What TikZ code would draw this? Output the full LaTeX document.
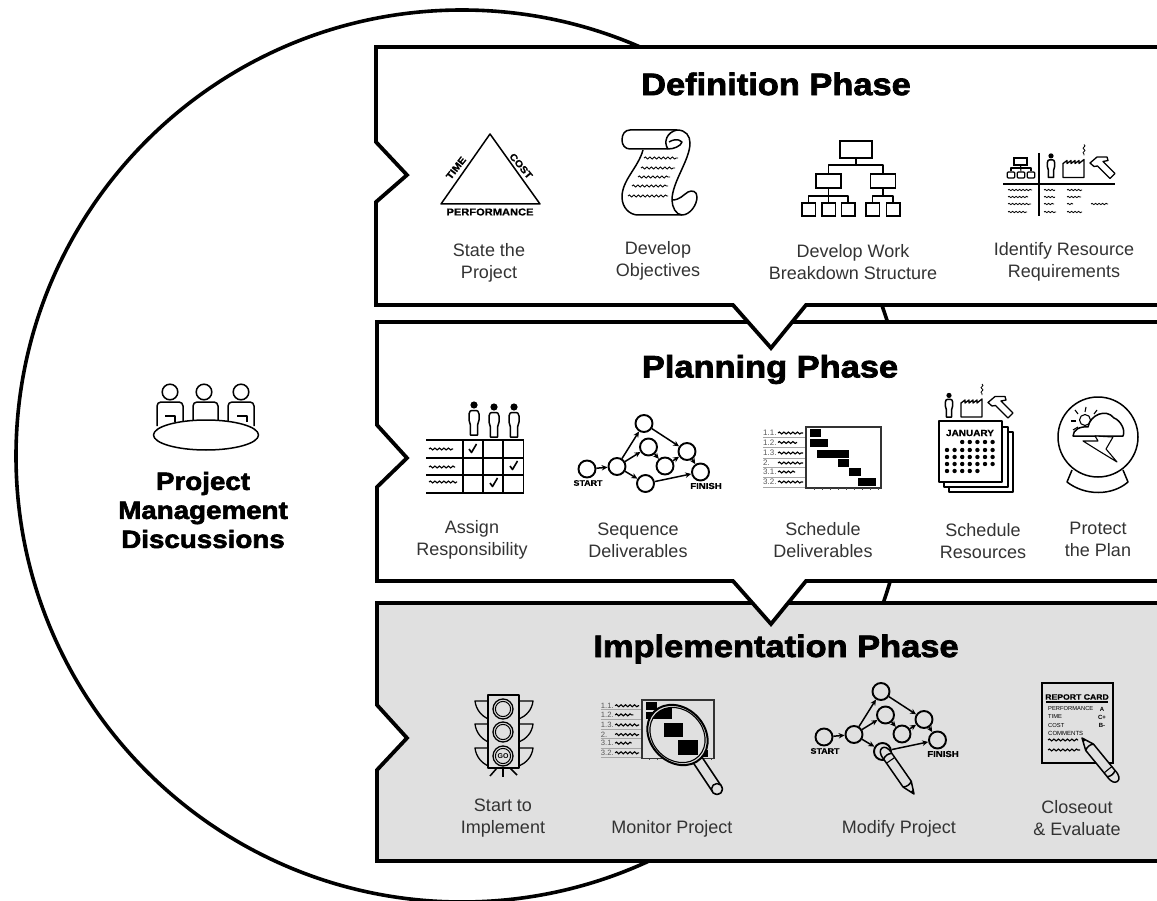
\documentclass[tikz,border=0pt]{standalone}
\usepackage{fontspec}
\setmainfont{Liberation Sans}
\newfontfamily\heavyf[BoldFeatures={FakeBold=2.4,FakeStretch=1.11}]{Liberation Sans}
\newfontfamily\tinyf[BoldFeatures={FakeBold=.7,FakeStretch=1.11}]{Liberation Sans}
\usetikzlibrary{arrows.meta,decorations.pathmorphing}
\definecolor{panel}{HTML}{E0E0E0}
\definecolor{labelgray}{HTML}{333333}
\tikzset{
  phasebox/.style={draw=black,line width=3.8pt,fill=white,line join=miter},
  icon/.style={draw=black,line width=1.5pt,line join=round},
  thinicon/.style={draw=black,line width=1.1pt,line join=round},
  squig/.style={draw=black,line width=1.1pt,decorate,decoration={snake,amplitude=1pt,segment length=4.5pt}},
  ttl/.style={font=\heavyf\bfseries\fontsize{31}{32}\selectfont,inner sep=0pt},
  lab/.style={font=\fontsize{18}{22}\selectfont,text=labelgray,align=center,inner sep=0pt},
  tiny/.style={font=\tinyf\bfseries\fontsize{8}{9}\selectfont,inner sep=0pt},
  wbsbox/.style={draw=black,line width=1.5pt,inner sep=0pt},
  netnode/.style={circle,draw=black,line width=1.9pt,inner sep=0pt,minimum size=17pt},
  netarrow/.style={draw=black,line width=1.5pt,-{Stealth[length=6pt,width=5.5pt]}},
  person/.pic={
    \fill[black] (0,0) circle[radius=3.6];
    \draw[icon] (-5,9) .. controls (-5,6) and (-3,5.5) .. (-2,5.5) -- (2,5.5) .. controls (3,5.5) and (5,6) .. (5,9)
      -- (5,15) -- (3.6,20) -- (3.6,30) -- (-3.6,30) -- (-3.6,20) -- (-5,15) -- cycle;
  },
  resources/.pic={
    \pic[scale=.72] at (0,-9.6) {person};
    \draw[icon,line width=1.3pt] (12,12) -- (12,-2) -- (16,-5) -- (16,-2) -- (20,-5) -- (20,-2) -- (24,-5) -- (24,-2) -- (28,-5) -- (28,-2) -- (33,-6) -- (33,12) -- cycle;
    \draw[squig,line width=.8pt] (33,-21) -- (33,-10);
    \draw[icon,line width=1.3pt] (39,-2.5) -- (46,-8.5) -- (56,-8.5) -- (57,-5) -- (52,-4) -- (64,8) -- (59,13) -- (46.5,.5) -- (43,1) -- cycle;
  },
  network/.pic={
    \node[netnode] (-s) at (0,0) {};
    \node[netnode] (-n) at (30,-2.5) {};
    \node[netnode] (-t) at (57,-45.5) {};
    \node[netnode] (-m) at (61.5,-22) {};
    \node[netnode] (-l) at (78,-3) {};
    \node[netnode] (-b) at (58.5,14.5) {};
    \node[netnode] (-r) at (100,-17.5) {};
    \node[netnode] (-f) at (113.5,3) {};
    \draw[netarrow] (-s) -- (-n);
    \draw[netarrow] (-n) -- (-t);
    \draw[netarrow] (-n) -- (-m);
    \draw[netarrow] (-n) -- (-b);
    \draw[netarrow] (-t) -- (-r);
    \draw[netarrow] (-m) -- (-l);
    \draw[netarrow] (-l) -- (-r);
    \draw[netarrow] (-r) -- (-f);
    \draw[netarrow] (-b) -- (-f);
    \node[tiny] (-st) at (1,14) {START};
    \node[tiny,font=\tinyf\bfseries\fontsize{8.6}{9}\selectfont] (-fi) at (119,17) {FINISH};
  },
  ganttframe/.pic={
    \foreach \yy in {10,20,31,40.5,50,60} \draw[gray!70,line width=1pt] (-43,\yy) -- (0,\yy);
    \foreach \yy/\txt/\se in {6/1.1./-3,15.5/1.2./-9,26/1.3./-3,36/2./-3,45/3.1./-11,55/3.2./-3}{
      \node[anchor=west,inner sep=0pt,font=\fontsize{8}{8}\selectfont,text=black!65] (-g\yy) at (-43,\yy) {\txt};
      \draw[squig] (-28,\yy) -- (\se,\yy);
    }
    \draw[draw=black!80,line width=1.3pt] (0,0) rectangle (75,61);
    \foreach \xx in {8,16,...,72} \draw[black!70,line width=.6pt] (\xx,61) -- (\xx,63);
  },
  pencil/.pic={
    \draw[icon,fill=panel] (0,0) -- (12,-5) -- (46,-5) .. controls (53,-5.5) and (56,-3) .. (56,0) .. controls (56,3) and (53,5.5) .. (46,5) -- (12,5) -- cycle;
    \fill[black] (0,0) -- (4,-1.7) -- (4,1.7) -- cycle;
    \draw[icon] (12,-5) .. controls (10,-2) and (10,2) .. (12,5);
    \draw[icon] (46,-5) .. controls (48,-2) and (48,2) .. (46,5);
    \draw[thinicon] (41,-5) -- (41,5);
  }
}
\newcommand{\labl}[3]{\node[lab] (#1) at (#2) {#3};}
\begin{document}
\begin{tikzpicture}[x=1pt,y=-1pt]
\useasboundingbox (0,0) rectangle (1157,901);
\clip (0,0) rectangle (1157,901);
\fill[white] (0,0) rectangle (1157,901);

% big circle
\draw[draw=black,line width=3.6pt] (462,456) circle[radius=446];

% phase boxes, lowest first
\path[phasebox,fill=panel] (1175,603) -- (377,603) -- (377,705) -- (407,738) -- (377,770) -- (377,861) -- (1175,861) -- cycle;
\path[phasebox] (1175,322) -- (377,322) -- (377,425) -- (407,458) -- (377,487) -- (377,581) -- (733,581) -- (771,624) -- (806,581) -- (1175,581) -- cycle;
\path[phasebox] (1175,47) -- (376,47) -- (376,142) -- (407,175) -- (376,202) -- (376,305) -- (733,305) -- (771,348) -- (806,305) -- (1175,305) -- cycle;

% titles
\node[ttl] (t1) at (776,84) {Definition Phase};
\node[ttl] (t2) at (770,369.5) {Planning Phase};
\node[ttl] (t3) at (776,649) {Implementation Phase};

% left: meeting
\draw[icon,rounded corners=4pt] (157,426) -- (157,402) -- (183,402) -- (183,424);
\draw[icon,rounded corners=4pt] (193,421) -- (193,402) -- (218,402) -- (218,421);
\draw[icon,rounded corners=4pt] (228,424) -- (228,402) -- (254,402) -- (254,426);
\draw[icon] (165,416) -- (175,416) -- (175,422);
\draw[icon] (237,416) -- (247,416) -- (247,422);
\draw[icon] (170,392) circle[radius=7.8];
\draw[icon] (204,392) circle[radius=7.8];
\draw[icon] (241,392) circle[radius=7.8];
\draw[icon,fill=white] (206,435) ellipse[x radius=52.5,y radius=15];
\node[font=\heavyf\bfseries\fontsize{25}{29}\selectfont,align=center,inner sep=0pt] (pm) at (203,510) {Project\\Management\\Discussions};

% ---------- Definition
\draw[icon] (490,134) -- (441,204) -- (540,204) -- cycle;
\node[tiny,font=\tinyf\bfseries\fontsize{10}{10}\selectfont] (perf) at (490,212) {PERFORMANCE};
\node[tiny,font=\tinyf\bfseries\fontsize{9.7}{10}\selectfont,rotate=52] (time) at (456,168) {TIME};
\node[tiny,font=\tinyf\bfseries\fontsize{9.7}{10}\selectfont,rotate=-50] (cost) at (521,166) {COST};
\labl{l11}{489,263}{State the\\Project}

% scroll
\draw[icon] (643,150) .. controls (638,168) and (622,180) .. (622,197) .. controls (622,208) and (630,215) .. (638,215) -- (682,215);
\draw[icon] (668,149) -- (630,149) .. controls (625,149) and (622,145) .. (622,140) .. controls (622,134) and (625,130) .. (630,130) -- (677,130) .. controls (686,130) and (690,136) .. (690,143) .. controls (690,160) and (672,182) .. (672,200);
\draw[icon] (668,149) .. controls (663,142) and (667,132) .. (677,130);
\draw[icon] (668,149) .. controls (674,149) and (681,146) .. (682,142) .. controls (678,138) and (672,140) .. (669,142);
\draw[icon] (672,200) .. controls (672,207) and (676,215) .. (682,215) .. controls (690,215) and (697,205) .. (697,197) .. controls (697,191) and (692,190) .. (688,192) .. controls (683,195) and (680,200) .. (672,200);
\foreach \xa/\xb/\yy in {644/678/158,641/675/168,638/670/177,632/668/186,628/668/196}
  \draw[squig,line width=.9pt] (\xa,\yy) -- (\xb,\yy);
\labl{l12}{658,261}{Develop\\Objectives}

% WBS
\node[wbsbox,minimum width=32pt,minimum height=17pt] (w0) at (856,149.5) {};
\node[wbsbox,minimum width=25pt,minimum height=14pt] (w1) at (828.5,181) {};
\node[wbsbox,minimum width=25pt,minimum height=14pt] (w2) at (883,181) {};
\foreach \n/\xx in {a/808.5,b/828.5,c/848,d/872.5,e/893}
  \node[wbsbox,minimum width=13.5pt,minimum height=13pt] (w\n) at (\xx,209.5) {};
\coordinate (j0) at (856,165);
\coordinate (j1) at (828.5,196);
\coordinate (j2) at (883,196);
\draw[icon] (w0) -- (j0);
\draw[icon] (w1.north) |- (j0) -| (w2.north);
\draw[icon] (w1.south) -- (wb.north);
\draw[icon] (wa.north) |- (j1) -| (wc.north);
\draw[icon] (w2.south) -- (j2);
\draw[icon] (wd.north) |- (j2) -| (we.north);
\labl{l13}{853,262}{Develop Work\\Breakdown Structure}

% identify resource
\node[draw=black,line width=1.2pt,minimum width=13pt,minimum height=7pt,inner sep=0pt] (i0) at (1020.5,161.5) {};
\foreach \n/\xx in {a/1011,b/1021,c/1031}
  \node[draw=black,line width=1.2pt,minimum width=7.5pt,minimum height=6pt,inner sep=0pt,rounded corners=1pt] (i\n) at (\xx,175) {};
\coordinate (ij) at (1020.5,168);
\draw[thinicon] (i0) -- (ib);
\draw[thinicon] (ia.north) |- (ij) -| (ic.north);
\draw[draw=black,line width=1.5pt] (1039,153) -- (1039,216);
\draw[draw=black,line width=1.5pt] (1003,184) -- (1115,184);
\pic at (1051,165.5) {resources};
\foreach \xa/\xb/\yy in {1008/1032/190,1008/1028/197,1008/1031/204,1008/1027/212,1044/1055/190,1044/1055/197,1044/1054/204,1044/1056/212,1067/1082/190,1067/1081/197,1067/1073/204,1067/1082/212,1091/1108/204}
  \draw[squig,line width=.8pt,decoration={snake,amplitude=.7pt,segment length=3.5pt}] (\xa,\yy) -- (\xb,\yy);
\labl{l14}{1064,262}{Identify Resource\\Requirements}

% ---------- Planning
\pic at (474,405) {person};
\pic at (494,407) {person};
\pic at (514,407) {person};
\draw[draw=black,line width=1.8pt] (426,440) -- (524,440) (426,458) -- (524,458) (426,475) -- (524,475) (426,493) -- (524,493);
\draw[draw=black,line width=1.8pt] (463,440) -- (463,493) (483,440) -- (483,493) (503,440) -- (503,493) (523.5,440) -- (523.5,493);
\foreach \a/\b in {473/449,514/466,494/483}
  \draw[draw=black,line width=1.6pt,line join=round] (\a-4,\b) -- (\a-1.5,\b+3.5) -- (\a+3.5,\b-5);
\draw[squig] (429,449) -- (453,449);
\draw[squig] (429,467) -- (455,467);
\draw[squig] (429,482) -- (457,482);
\labl{l21}{472,540}{Assign\\Responsibility}

\pic (net1) at (587,469) {network};
\labl{l22}{638,540}{Sequence\\Deliverables}

\pic at (806,427) {ganttframe};
\foreach \xa/\ya/\xb/\yb in {810/429/821/437,810/439/828/447,817/450/849/458,838/459/849/467,849/468/861/476,858/478/876/486}
  \fill[black] (\xa,\ya) rectangle (\xb,\yb);
\labl{l23}{823,540}{Schedule\\Deliverables}

% calendar
\pic at (949,405) {resources};
\draw[icon,fill=white] (949,432) rectangle (1013,492);
\draw[icon,fill=white] (944,427) rectangle (1008,487);
\draw[icon,fill=white] (939,421) rectangle (1002,482);
\node[tiny,font=\tinyf\bfseries\fontsize{9}{10}\selectfont] (jan) at (970,433) {JANUARY};
\foreach \rr/\yy in {1/442,2/450,3/457,4/464,5/471}
  \foreach \cc in {0,...,6}{
    \pgfmathparse{(\rr==1 && \cc<2) || (\rr==5 && \cc>4) ? 0 : 1}
    \ifnum\pgfmathresult>0
      \fill[black] (947+7.6*\cc,\yy) circle[radius=2.2];
    \fi
  }
\labl{l24}{983,541}{Schedule\\Resources}

% crystal ball
\draw[icon] (1072,470) -- (1067,482) .. controls (1085,496) and (1112,496) .. (1128,482) -- (1123,470);
\draw[icon] (1098,437) circle[radius=40];
\draw[thinicon] (1085,420) circle[radius=5.5];
\foreach \a/\b/\c/\d in {1085/412/1086/407,1078/414/1075/410,1094/414/1097/410,1076/421/1071/421,1078/427/1073/430}
  \draw[thinicon] (\a,\b) -- (\c,\d);
\draw[icon,fill=white] (1073,436) .. controls (1073,430) and (1080,426) .. (1088,427) .. controls (1090,415) and (1106,408) .. (1114,418) .. controls (1120,420) and (1126,430) .. (1123,436) -- cycle;
\draw[thinicon,fill=white] (1083,441) -- (1098,441) -- (1095,436) -- (1113,437) -- (1106,449) -- (1117,462) -- (1099,451) -- cycle;
\labl{l25}{1098,539}{Protect\\the Plan}

% ---------- Implementation
% traffic light
\foreach \yy in {701,724,748}{
  \draw[thinicon,line width=1.3pt] (488,\yy) -- (475,\yy) .. controls (476,\yy+9) and (482,\yy+15) .. (488,\yy+18);
  \draw[thinicon,line width=1.3pt] (519,\yy) -- (533,\yy) .. controls (532,\yy+9) and (526,\yy+15) .. (519,\yy+18);
}
\draw[thinicon,line width=1.3pt] (488,695) rectangle (519,768);
\foreach \yy in {709,732,756}{
  \draw[thinicon,line width=1.3pt] (503,\yy) circle[radius=10];
  \draw[thinicon,line width=1pt] (503,\yy) circle[radius=7.6];
}
\node[inner sep=0pt,font=\bfseries\fontsize{7}{8}\selectfont] (go) at (503,756.5) {GO};
\draw[icon] (503,768) -- (503,777);
\draw[icon] (497,768) -- (490,776);
\draw[icon] (510,768) -- (517,775);
\labl{l31}{503,818}{Start to\\Implement}

% monitor
\begin{scope}[shift={(642,700)},scale=.96,transform shape]
\pic at (0,0) {ganttframe};
\end{scope}
\foreach \xa/\ya/\xb/\yb in {646/702/657/710,646/712/657/719,702/750/708/757}
  \fill[black] (\xa,\ya) rectangle (\xb,\yb);
\draw[draw=black,line width=12pt,line cap=round] (693,753) -- (717,789);
\draw[draw=panel,line width=8.5pt,line cap=round] (693,753) -- (717,789);
\begin{scope}[shift={(677.5,735)},rotate=-45]
  \draw[draw=black,line width=2pt,fill=panel] (0,0) ellipse[x radius=33,y radius=27];
  \begin{scope}[rotate=45,shift={(-677.5,-735)}]
    \clip[rotate around={-45:(677.5,735)}] (677.5,735) ellipse[x radius=30,y radius=25];
    \fill[black] (653,707) rectangle (672,719);
    \fill[black] (664,723) rectangle (683,737);
    \fill[black] (678,740) rectangle (698,755);
  \end{scope}
  \draw[thinicon] (0,0) ellipse[x radius=30,y radius=25];
\end{scope}
\draw[icon,fill=panel] (717,789) circle[radius=5.5];
\labl{l32}{672,829}{Monitor Project}

% modify
\pic (net2) at (824,737) {network};
\pic[rotate=124.8] at (914,794) {pencil};
\labl{l33}{899,829}{Modify Project}

% report card
\draw[draw=black,line width=1.8pt] (1042,683) rectangle (1113,763);
\node[inner sep=0pt,font=\tinyf\bfseries\fontsize{7.8}{9}\selectfont] (rc) at (1077,697) {REPORT CARD};
\draw[draw=black,line width=1.3pt] (1046,702) -- (1108,702);
\foreach \yy/\txt/\gr in {709/PERFORMANCE/A,717/TIME/C+,725/COST/B-}{
  \node[anchor=west,inner sep=0pt,font=\fontsize{5.8}{6}\selectfont] (rc\txt) at (1048,\yy) {\txt};
  \node[inner sep=0pt,font=\bfseries\fontsize{6}{6}\selectfont] (rg\txt) at (1102,\yy) {\gr};
}
\node[anchor=west,inner sep=0pt,font=\fontsize{6}{6}\selectfont] (rccom) at (1048,733) {COMMENTS};
\draw[squig] (1048,740) -- (1078,740);
\draw[squig] (1048,750) -- (1080,750);
\pic[rotate=-50.7] at (1082,738) {pencil};
\labl{l34}{1077,818}{Closeout\\\& Evaluate}
\end{tikzpicture}
\end{document}
